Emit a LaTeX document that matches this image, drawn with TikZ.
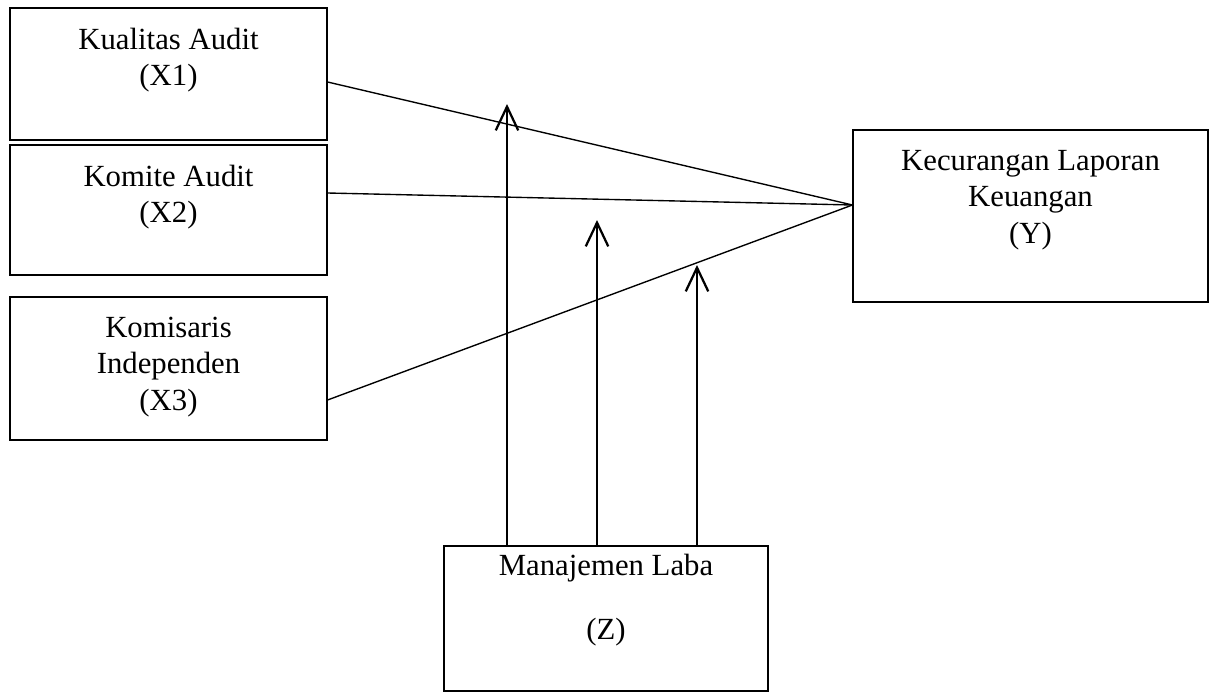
\documentclass[tikz,border=0pt]{standalone}
\usepackage{fontspec}
\setmainfont{Liberation Serif}
\usetikzlibrary{positioning,arrows.meta}

\begin{document}
\begin{tikzpicture}[
      x=0.4pt, y=-0.4pt,
      font=\fontsize{12.3}{14.6}\selectfont,
      box/.style={draw=black, line width=0.45pt, inner sep=0pt},
      lbl/.style={align=center, inner sep=0pt},
      ln/.style={draw=black, line width=0.55pt},
      up/.style={-{Straight Barb[length=9.5pt, width=9pt, line width=0.9pt]},
                 draw=black, line width=0.9pt},
    ]
    \useasboundingbox (0,0) rectangle (1213,693);

    % ---------- independent variables ----------
    \node[box, minimum width=126.8pt, minimum height=52.8pt] (x1) at (168.5,74) {};
    \node[lbl, below=8pt of x1.north] (x1t) {Kualitas Audit\\(X1)};

    \node[box, minimum width=126.8pt, minimum height=52pt] (x2) at (168.5,210) {};
    \node[lbl, below=8pt of x2.north] (x2t) {Komite Audit\\(X2)};

    \node[box, minimum width=126.8pt, minimum height=57.2pt] (x3) at (168.5,368.5) {};
    \node[lbl, below=8pt of x3.north] (x3t) {Komisaris\\Independen\\(X3)};

    % ---------- dependent variable ----------
    \node[box, minimum width=142pt, minimum height=68.8pt] (y) at (1030.5,216) {};
    \node[lbl, below=8pt of y.north] (yt) {Kecurangan Laporan\\Keuangan\\(Y)};
    \coordinate (yin) at ([yshift=4.4pt]y.west);

    % ---------- moderating variable ----------
    \node[box, minimum width=129.6pt, minimum height=58pt] (z) at (606,618.5) {};
    \node[lbl, below=3.2pt of z.north] (zt) {Manajemen Laba\\[11pt](Z)};

    % ---------- direct paths ----------
    \draw[ln] ([yshift=-3.2pt]x1.east) -- (yin);
    \draw[ln] ([yshift=6.8pt]x2.east) -- (yin);
    \draw[ln] ([yshift=-12.6pt]x3.east) -- (yin);

    % ---------- moderation ----------
    \coordinate (m1) at (507,104);
    \coordinate (m2) at (597,220);
    \coordinate (m3) at (697,265);
    \draw[up] (z.north -| m1) -- (m1);
    \draw[up] (z.north -| m2) -- (m2);
    \draw[up] (z.north -| m3) -- (m3);

  \end{tikzpicture}
\end{document}
